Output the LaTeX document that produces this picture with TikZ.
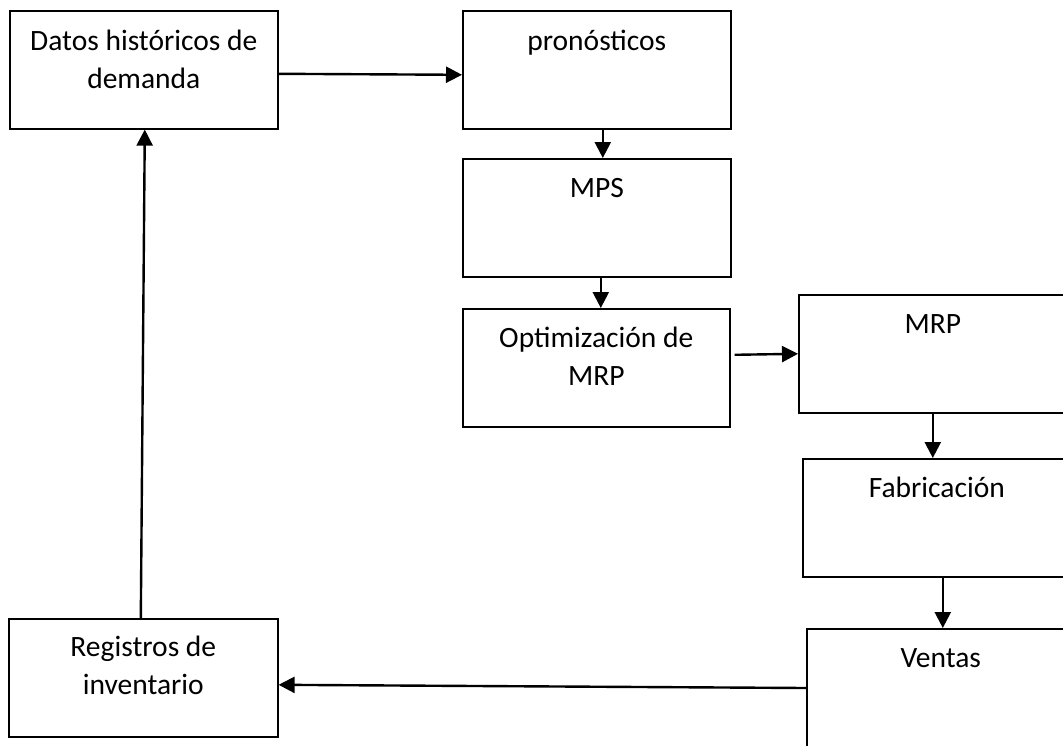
\documentclass[tikz,border=0pt]{standalone}
\usepackage{fontspec}
\setmainfont{Carlito}
\usetikzlibrary{arrows.meta,calc}
\begin{document}
\begin{tikzpicture}[x=1pt,y=-1pt,
  box/.style={draw, line width=1.6pt, minimum width=268pt, minimum height=118pt, inner sep=0pt, anchor=north west},
  txt/.style={anchor=base, align=center, inner sep=0pt, font=\fontsize{29.5pt}{38pt}\selectfont},
  arr/.style={line width=2.4pt, -{Triangle[length=16pt,width=16pt]}}]
\useasboundingbox (0,0) rectangle (1063,745);
\clip (0,0) rectangle (1063,745);
% boxes
\node[box] (b1) at (9,10) {};
\node[box] (b2) at (462,10) {};
\node[box] (b3) at (462,158) {};
\node[box, minimum width=267pt] (b4) at (462,308) {};
\node[box] (b5) at (798,294) {};
\node[box] (b6) at (802,458) {};
\node[box, minimum height=140pt] (b7) at (806,628) {};
\node[box, minimum width=269pt] (b8) at (8,618) {};
% texts
\node[txt] (t1) at ($(b1.north)+(0,78)$) {Datos históricos de\\demanda};
\node[txt] (t2) at ($(b2.north)+(0,40)$) {pronósticos};
\node[txt] (t3) at ($(b3.north)+(0,39)$) {MPS};
\node[txt] (t4) at ($(b4.north)+(0,77)$) {Optimización de\\MRP};
\node[txt] (t5) at ($(b5.north)+(0,39)$) {MRP};
\node[txt] (t6) at ($(b6.north)+(0,39)$) {Fabricación};
\node[txt] (t7) at ($(b7.north)+(0,39)$) {Ventas};
\node[txt] (t8) at ($(b8.north)+(0,76)$) {Registros de\\inventario};
% connectors
\draw[arr] ([yshift=-4pt]b1.east) -- ([yshift=-5pt]b2.west);
\draw[arr] ([xshift=6pt]b2.south) -- ([xshift=6pt]b3.north);
\draw[arr] ([xshift=4pt]b3.south) -- ([xshift=4.5pt]b4.north);
\draw[arr] ([xshift=4pt,yshift=13pt]b4.east) -- (b5.west);
\draw[arr] (b5.south) -- ([xshift=-4pt]b6.north);
\draw[arr] ([xshift=6pt]b6.south) -- ([xshift=2pt]b7.north);
\draw[arr] ($(b7.north west)+(0,60)$) -- ([yshift=-7pt]b8.east);
\draw[arr] ([xshift=-2.5pt]b8.north) -- ([xshift=1pt]b1.south);
\end{tikzpicture}
\end{document}
